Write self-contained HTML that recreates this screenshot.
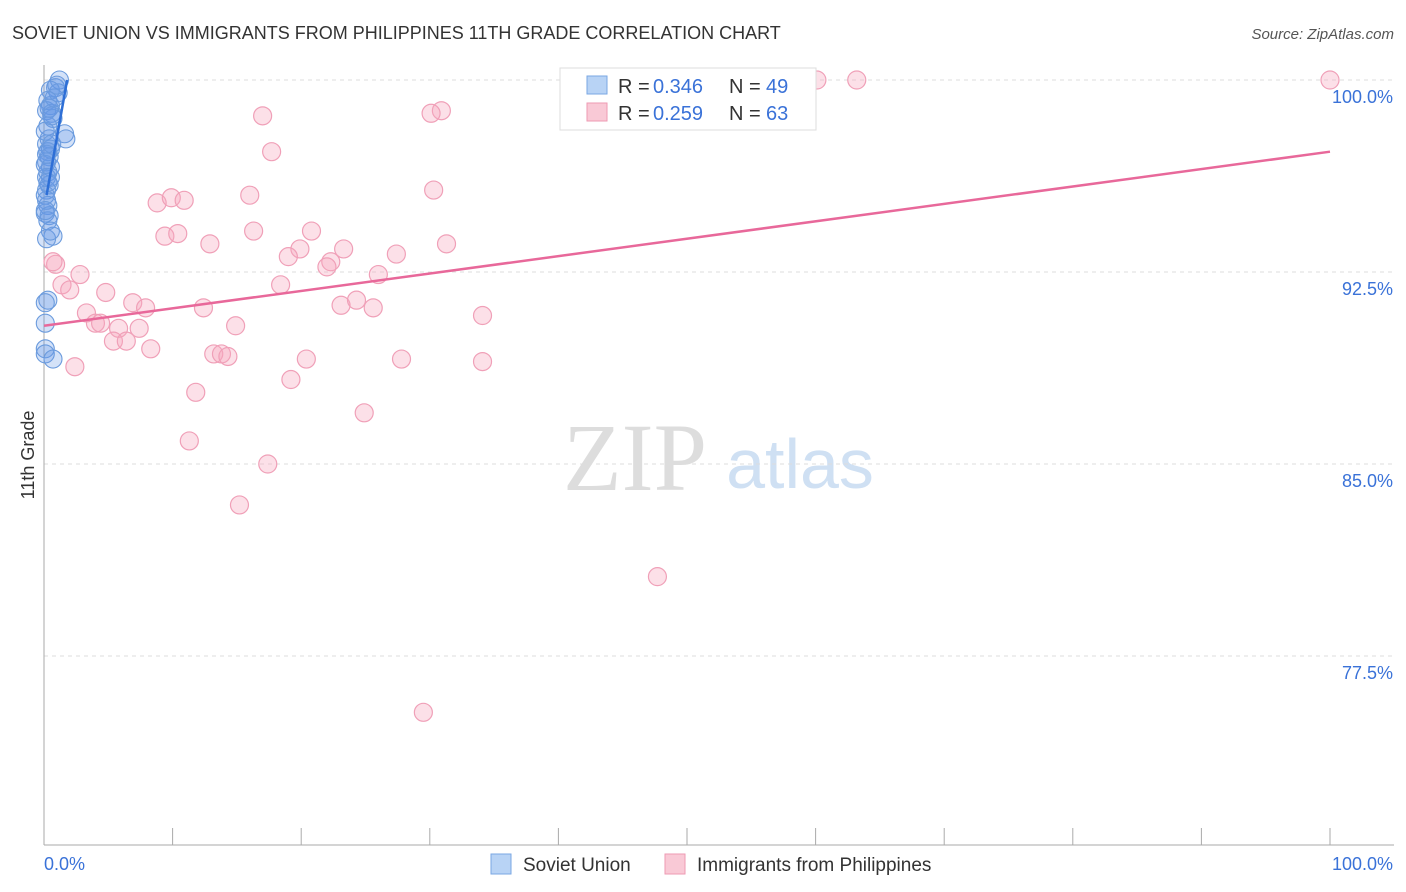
<!DOCTYPE html>
<html><head><meta charset="utf-8"><style>
body{margin:0;background:#fff;font-family:"Liberation Sans",sans-serif;}
svg{display:block}
</style></head><body>
<svg id="chart" width="1406" height="892">
<text x="12" y="39" font-size="18" fill="#333">SOVIET UNION VS IMMIGRANTS FROM PHILIPPINES 11TH GRADE CORRELATION CHART</text>
<text x="1394" y="39" font-size="15" fill="#555" font-style="italic" text-anchor="end">Source: ZipAtlas.com</text>
<text x="34" y="455" font-size="18" fill="#333" transform="rotate(-90 34 455)" text-anchor="middle">11th Grade</text>
<g>
<text x="635" y="490" font-size="96" font-family="Liberation Serif,serif" fill="#ddd" text-anchor="middle">ZIP</text>
<text x="800" y="488" font-size="70" fill="#cfe0f3" text-anchor="middle">atlas</text>
</g>
<g id="grid"></g>
<g id="axes"></g>
<g id="pts"></g>
<g id="trend"></g>
<g>
<rect x="560" y="68" width="256" height="62" fill="#fff" stroke="#ddd"/>
<rect x="587" y="76" width="20" height="18" fill="#b8d3f5" stroke="#7aa7e3"/>
<text x="618" y="93" font-size="20" fill="#333">R =</text>
<text x="653" y="93" font-size="20" fill="#3a72d8">0.346</text>
<text x="729" y="93" font-size="20" fill="#333">N =</text>
<text x="766" y="93" font-size="20" fill="#3a72d8">49</text>
<rect x="587" y="103" width="20" height="18" fill="#f9c9d6" stroke="#ee9ab3"/>
<text x="618" y="120" font-size="20" fill="#333">R =</text>
<text x="653" y="120" font-size="20" fill="#3a72d8">0.259</text>
<text x="729" y="120" font-size="20" fill="#333">N =</text>
<text x="766" y="120" font-size="20" fill="#3a72d8">63</text>
</g>
<g>
<rect x="491" y="854" width="20" height="20" fill="#b8d3f5" stroke="#7aa7e3"/>
<text x="523" y="871" font-size="19" fill="#333">Soviet Union</text>
<rect x="665" y="854" width="20" height="20" fill="#f9c9d6" stroke="#ee9ab3"/>
<text x="697" y="871" font-size="19" fill="#333">Immigrants from Philippines</text>
</g>
<text x="44" y="870" font-size="18" fill="#3a72d8">0.0%</text>
<text x="1393" y="870" font-size="18" fill="#3a72d8" text-anchor="end">100.0%</text>
</svg>
<script>
const yTicks=[100,92.5,85,77.5];
const yTickLabels=["100.0%","92.5%","85.0%","77.5%"];
const xTicks=[0,10,20,30,40,50,60,70,80,90,100];
const blueX=[1.2,0.9,0.5,0.3,0.5,0.2,0.6,0.7,0.3,1.6,1.7,0.4,0.2,0.5,0.3,0.4,0.2,0.5,0.3,0.2,0.4,0.2,0.1,0.3,0.1,0.4,0.3,0.7,0.2,0.3,0.1,0.1,0.1,0.1,0.7,1.1,0.8,0.1,0.6,0.1,0.5,0.2,0.5,1.0,0.4,0.2,0.3,0.6,0.1];
const blueY=[100,99.7,99.6,99.2,99.0,98.8,98.7,98.5,98.2,97.9,97.7,97.7,97.5,97.3,97.2,97.0,96.8,96.6,96.4,96.2,95.9,95.7,95.5,95.1,94.8,94.7,94.5,93.9,93.8,91.4,91.3,90.5,89.5,89.3,89.1,99.5,99.3,98.0,97.5,96.7,96.2,95.3,94.1,99.8,98.9,97.1,96.0,98.6,94.9];
const pinkX=[60.1,63.2,100,17.0,30.9,30.1,17.7,30.3,16.0,8.8,9.9,10.9,9.4,10.4,16.3,20.8,12.9,31.3,23.3,19.9,19.0,27.4,22.3,22.0,26.0,0.9,0.7,2.8,1.4,2.0,4.8,18.4,6.9,7.9,23.1,24.3,25.6,12.4,3.3,34.1,4.0,4.4,5.8,7.4,14.9,5.4,6.4,8.3,13.2,13.8,14.3,20.4,27.8,34.1,2.4,19.2,11.8,24.9,11.3,17.4,15.2,47.7,29.5];
const pinkY=[100,100,100,98.6,98.8,98.7,97.2,95.7,95.5,95.2,95.4,95.3,93.9,94.0,94.1,94.1,93.6,93.6,93.4,93.4,93.1,93.2,92.9,92.7,92.4,92.8,92.9,92.4,92.0,91.8,91.7,92.0,91.3,91.1,91.2,91.4,91.1,91.1,90.9,90.8,90.5,90.5,90.3,90.3,90.4,89.8,89.8,89.5,89.3,89.3,89.2,89.1,89.1,89.0,88.8,88.3,87.8,87.0,85.9,85.0,83.4,80.6,75.3];
const blueTrendX=[0.2,1.8], blueTrendY=[95.5,100];
const pinkTrendX=[0,100], pinkTrendY=[90.4,97.2];
const NS="http://www.w3.org/2000/svg";
const sx=v=>44+v*12.86, sy=v=>80+(100-v)*25.6;
function mk(tag,attrs,parent){const e=document.createElementNS(NS,tag);for(const k in attrs)e.setAttribute(k,attrs[k]);parent.appendChild(e);return e;}
const grid=document.getElementById('grid'),axes=document.getElementById('axes'),pts=document.getElementById('pts'),trend=document.getElementById('trend');
yTicks.forEach((t,i)=>{
 const l=mk('line',{x1:44,x2:1394,y1:sy(t),y2:sy(t),stroke:'#ddd','stroke-dasharray':'4 4'},grid);
 
 
 const tx=mk('text',{x:1393,y:sy(t)+23,'font-size':18,fill:'#3a72d8','text-anchor':'end'},grid);
 tx.textContent=yTickLabels[i];
 
 
});
const ax=mk('line',{x1:44,x2:44,y1:65,y2:845,stroke:'#aaa'},axes);


const bx=mk('line',{x1:44,x2:1394,y1:845,y2:845,stroke:'#aaa'},axes);


xTicks.forEach(t=>{
 const l=mk('line',{x1:sx(t),x2:sx(t),y1:828,y2:845,stroke:'#aaa'},axes);
 
 
});
pinkX.forEach((x,i)=>{
 const c=mk('circle',{cx:sx(x),cy:sy(pinkY[i]),r:9,fill:'rgba(245,165,190,0.35)',stroke:'#f0a0b8','stroke-width':1.2},pts);
 
 
});
blueX.forEach((x,i)=>{
 const c=mk('circle',{cx:sx(x),cy:sy(blueY[i]),r:9,fill:'rgba(100,150,230,0.28)',stroke:'#6b9bdd','stroke-width':1.1},pts);
 
 
});
const pl=mk('line',{x1:sx(pinkTrendX[0]),y1:sy(pinkTrendY[0]),x2:sx(pinkTrendX[1]),y2:sy(pinkTrendY[1]),stroke:'#e8689a','stroke-width':2.5},trend);


const bl=mk('line',{x1:sx(blueTrendX[0]),y1:sy(blueTrendY[0]),x2:sx(blueTrendX[1]),y2:sy(blueTrendY[1]),stroke:'#2e6fd6','stroke-width':2.5},trend);


</script>
</body></html>
